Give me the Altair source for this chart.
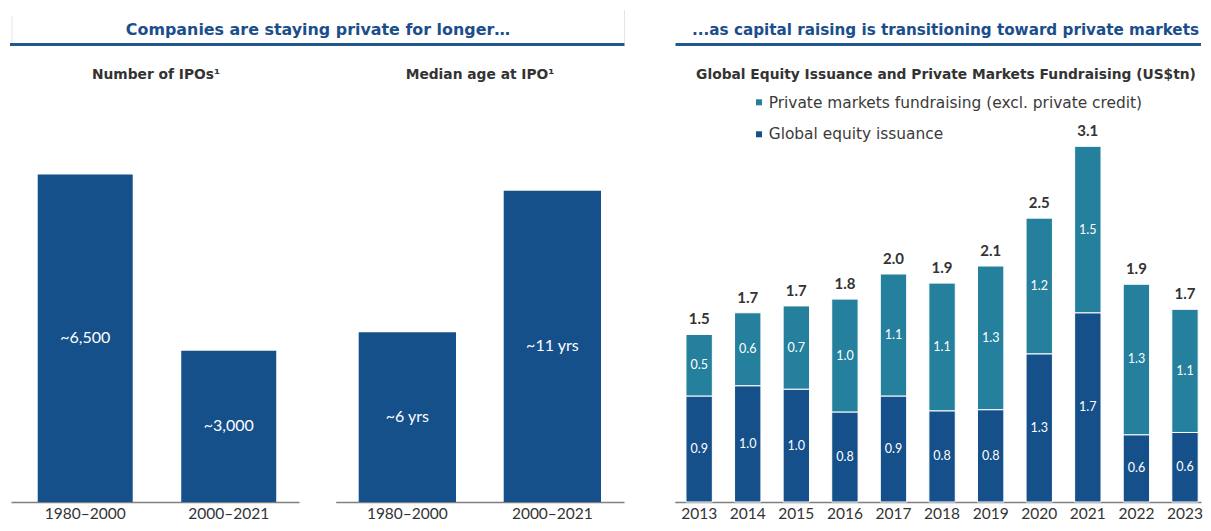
import altair as alt
import pandas as pd

FONT = "DejaVu Sans"
NUMF = "Lato"
DARK = "#15508a"
TEAL = "#25809d"
HEAD = "#1b4e8c"
RULE = "#22578f"
TXT = "#333333"

# ---------------- data ----------------
periods = ["1980–2000", "2000–2021"]
ipo_counts = [6500, 3000]
ipo_labels = ["~6,500", "~3,000"]
median_age = [6, 11]
age_labels = ["~6 yrs", "~11 yrs"]

years = ["2013", "2014", "2015", "2016", "2017", "2018", "2019", "2020", "2021", "2022", "2023"]
equity = [0.93, 1.02, 0.99, 0.79, 0.93, 0.80, 0.81, 1.30, 1.66, 0.59, 0.61]
private = [0.54, 0.64, 0.73, 0.99, 1.07, 1.12, 1.26, 1.19, 1.46, 1.32, 1.08]

series_names = ["Private markets fundraising (excl. private credit)", "Global equity issuance"]
header_left = "Companies are staying private for longer…"
header_right = "...as capital raising is transitioning toward private markets"
sub_a = "Number of IPOs¹"
sub_b = "Median age at IPO¹"
sub_c = "Global Equity Issuance and Private Markets Fundraising (US$tn)"

H = 502  # plot height (top padding of -8 makes chart y equal page y)

axis_x = alt.Axis(title=None, labelAngle=0, ticks=False, domain=True, domainColor="#808080",
                  domainWidth=1.5, labelColor=TXT, labelFont=NUMF, labelFontSize=15.5,
                  labelPadding=4, grid=False)

one = pd.DataFrame({"k": [0]})


def txt(text, x, y, size, color=TXT, weight="normal", align="center", font=FONT):
    return alt.Chart(pd.DataFrame({"t": [text]})).mark_text(
        font=font, fontSize=size, fontWeight=weight, color=color, align=align, baseline="middle"
    ).encode(x=alt.value(x), y=alt.value(y), text="t:N")


def rule(x, x2, y, y2=None, color=RULE, width=3):
    enc = dict(x=alt.value(x), x2=alt.value(x2), y=alt.value(y))
    if y2 is not None:
        enc["y2"] = alt.value(y2)
    return alt.Chart(one).mark_rule(color=color, strokeWidth=width).encode(**enc)


# ---------------- panel A (page x 0 .. 305) ----------------
dfA = pd.DataFrame({"period": periods, "value": ipo_counts, "label": ipo_labels})
dfA["mid"] = dfA["value"] / 2
xA = alt.X("period:N", sort=periods,
           scale=alt.Scale(range=[11, 299], paddingInner=0.338, paddingOuter=0.1724, align=0.54),
           axis=axis_x)
yscA = alt.Scale(domain=[0, 9960], nice=False, zero=True)
barsA = alt.Chart(dfA).mark_bar(color=DARK).encode(x=xA, y=alt.Y("value:Q", scale=yscA, axis=None))
labA = alt.Chart(dfA).mark_text(color="white", font=NUMF, fontSize=16).encode(
    x=xA, y=alt.Y("mid:Q", scale=yscA, axis=None), text="label:N")
panelA = alt.layer(
    barsA, labA,
    rule(12, 12, 16, 43, color="#dfe6ee", width=1),
    txt(header_left, 318, 29.5, 15.9, color=HEAD, weight="bold"),
    txt(sub_a, 156, 75, 13.8, weight="bold"),
).properties(width=305, height=H)

# ---------------- panel B (page x 315 .. 630) ----------------
OB = 315
dfB = pd.DataFrame({"period": periods, "value": median_age, "label": age_labels})
dfB["mid"] = dfB["value"] / 2
xB = alt.X("period:N", sort=periods,
           scale=alt.Scale(range=[335.7 - OB, 624 - OB], paddingInner=0.329, paddingOuter=0.1586,
                           align=0.5),
           axis=axis_x)
yscB = alt.Scale(domain=[0, 17.74], nice=False, zero=True)
barsB = alt.Chart(dfB).mark_bar(color=DARK).encode(x=xB, y=alt.Y("value:Q", scale=yscB, axis=None))
labB = alt.Chart(dfB).mark_text(color="white", font=NUMF, fontSize=16).encode(
    x=xB, y=alt.Y("mid:Q", scale=yscB, axis=None), text="label:N")
panelB = alt.layer(
    barsB, labB,
    rule(10 - OB, 624.5 - OB, 44.5),
    rule(624.5 - OB, 624.5 - OB, 10, 43, color="#dfe6ee", width=1),
    txt(sub_b, 480 - OB, 75, 13.8, weight="bold"),
).properties(width=315, height=H)

# ---------------- panel C (page x 640 .. 1201) ----------------
OC = 640
rows = []
for yr, e, p in zip(years, equity, private):
    rows.append({"year": yr, "series": series_names[1], "start": 0.0, "end": e, "mid": e / 2, "v": e})
    rows.append({"year": yr, "series": series_names[0], "start": e, "end": round(e + p, 2),
                 "mid": e + p / 2, "v": p})
dfC = pd.DataFrame(rows)
dfT = pd.DataFrame({"year": years, "total": [round(e + p, 2) for e, p in zip(equity, private)]})

xC = alt.X("year:N", sort=years,
           scale=alt.Scale(range=[674.7 - OC, 1201 - OC], paddingInner=0.457, paddingOuter=0.145,
                           align=0.8),
           axis=axis_x)
yscC = alt.Scale(domain=[0, 4.4035], nice=False, zero=True)
colC = alt.Color("series:N", scale=alt.Scale(domain=series_names, range=[TEAL, DARK]), legend=None)

barsC = alt.Chart(dfC).mark_bar(stroke="white", strokeWidth=1).encode(
    x=xC, y=alt.Y("start:Q", scale=yscC, axis=None), y2="end:Q", color=colC)
segC = alt.Chart(dfC).mark_text(color="white", font=NUMF, fontSize=12.5).encode(
    x=xC, y=alt.Y("mid:Q", scale=yscC, axis=None), text=alt.Text("v:Q", format=".1f"))
totC = alt.Chart(dfT).mark_text(color=TXT, font=NUMF, fontSize=15, fontWeight="bold", dy=-15,
                                baseline="middle").encode(
    x=xC, y=alt.Y("total:Q", scale=yscC, axis=None), text=alt.Text("total:Q", format=".1f"))

legend_sq = alt.layer(
    alt.Chart(one).mark_square(size=36, color=TEAL, opacity=1).encode(
        x=alt.value(759 - OC), y=alt.value(102.3)),
    alt.Chart(one).mark_square(size=36, color=DARK, opacity=1).encode(
        x=alt.value(759 - OC), y=alt.value(134.3)),
)

panelC = alt.layer(
    barsC, segC, totC,
    rule(675.5 - OC, 1201 - OC, 44.5),
    txt(header_right, 945.5 - OC, 29.5, 15.2, color=HEAD, weight="bold"),
    txt(sub_c, 946 - OC, 74.5, 13.8, weight="bold"),
    legend_sq,
    txt(series_names[0], 768.7 - OC, 102.5, 15.4, color="#3a3a3a", align="left"),
    txt(series_names[1], 768.7 - OC, 134, 15.4, color="#3a3a3a", align="left"),
).properties(width=561, height=H)

chart = alt.hconcat(panelA, panelB, panelC, spacing=10, bounds="flush",
                    padding={"left": -8, "top": -8, "right": 0, "bottom": 0})
chart = chart.configure(font=FONT).configure_view(stroke=None, strokeWidth=0)

chart.save("out.html", embed_options={"renderer": "svg", "actions": False})
